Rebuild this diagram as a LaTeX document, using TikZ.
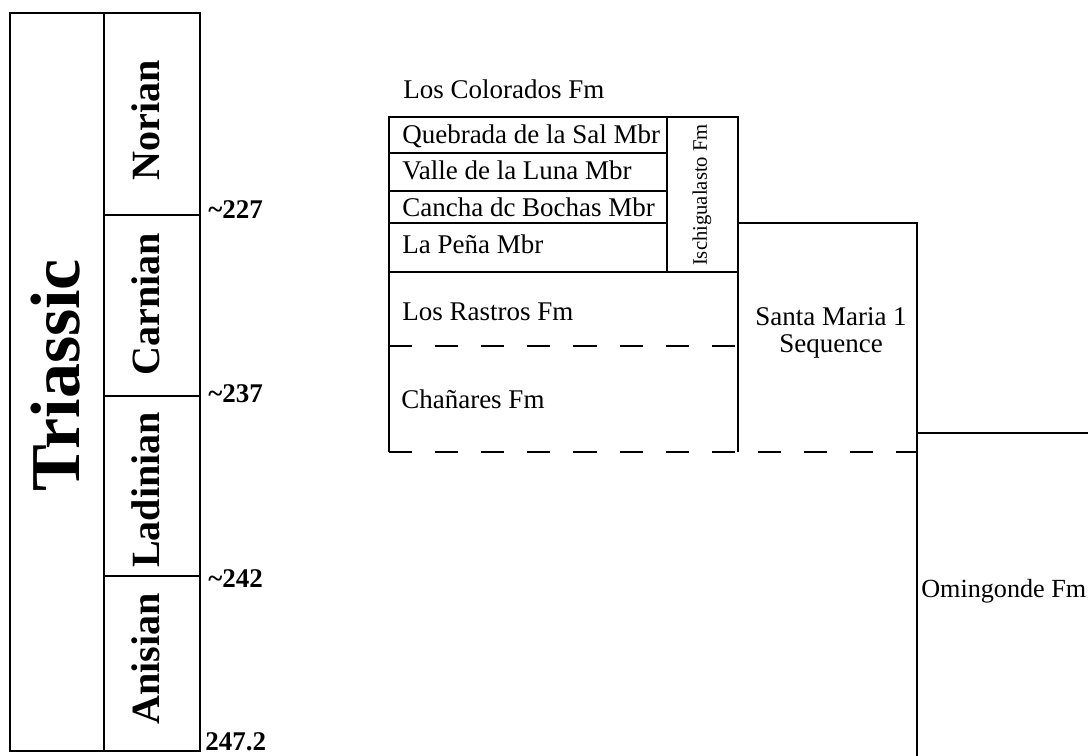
\documentclass[tikz,border=0pt]{standalone}
\usepackage{fontspec}
\setmainfont{Liberation Serif}
\begin{document}
\begin{tikzpicture}[x=0.025cm, y=-0.025cm,
    col/.style={line width=1.3pt},
    unit/.style={line width=2pt},
    contact/.style={line width=2pt, dash pattern=on 16.4pt off 16.4pt},
    lbl/.style={inner sep=0pt, anchor=base west, font=\fontsize{19.2}{19.2}\selectfont},
    stage/.style={inner sep=0pt, rotate=90, font=\bfseries\fontsize{28.5}{28.5}\selectfont},
    age/.style={inner sep=0pt, anchor=base west, font=\bfseries\fontsize{19.2}{19.2}\selectfont}]
    \useasboundingbox (0,0) rectangle (1088,756);
    \clip (0,0) rectangle (1088,756);

    % 年代柱
    \draw[col] (10,13) rectangle (200,751);
    \draw[col] (104,13) -- (104,751);
    \foreach \y in {215,396,576} \draw[col] (104,\y) -- (200,\y);
    \node[inner sep=0pt, rotate=90, font=\bfseries\fontsize{49.8}{49.8}\selectfont] (triassic) at (56,375) {Triassic};
    \node[stage] (norian) at (146,120) {Norian};
    \node[stage] (carnian) at (146,304) {Carnian};
    \node[stage] (ladinian) at (146,490) {Ladinian};
    \node[stage] (anisian) at (146,659) {Anisian};
    \node[age] (a227) at (208,218) {\textasciitilde 227};
    \node[age] (a237) at (208,402) {\textasciitilde 237};
    \node[age] (a242) at (208,587) {\textasciitilde 242};
    \node[age] (a247) at (205,750) {247.2};

    % 地层
    \draw[unit] (389,452) -- (389,117) -- (738,117) -- (738,452);
    \foreach \y in {153,191,223} \draw[unit] (389,\y) -- (667,\y);
    \draw[unit] (667,117) -- (667,272);
    \draw[unit] (389,272) -- (738,272);
    \draw[contact] (389,346) -- (738,346);
    \draw[contact] (389,452) -- (917,452);
    \draw[unit] (738,223) -- (917,223) -- (917,760);
    \draw[unit] (917,433) -- (1092,433);

    \node[lbl] (colorados) at (403,98) {Los Colorados Fm};
    \node[lbl] (quebrada) at (402,143) {Quebrada de la Sal Mbr};
    \node[lbl] (valle) at (402,179) {Valle de la Luna Mbr};
    \node[lbl] (cancha) at (402,216) {Cancha dc Bochas Mbr};
    \node[lbl] (pena) at (402,253) {La Peña Mbr};
    \node[inner sep=0pt, rotate=90, font=\fontsize{14.7}{14.7}\selectfont] (ischigualasto) at (702,195) {Ischigualasto Fm};
    \node[lbl] (rastros) at (402,320) {Los Rastros Fm};
    \node[lbl] (chanares) at (401,408) {Chañares Fm};
    \node[inner sep=0pt, align=center, font=\fontsize{19.2}{19.2}\selectfont] (santamaria) at (831,333) {Santa Maria 1\\Sequence};
    \node[lbl, font=\fontsize{18.6}{18.6}\selectfont] (omingonde) at (921,597) {Omingonde Fm};
\end{tikzpicture}
\end{document}
